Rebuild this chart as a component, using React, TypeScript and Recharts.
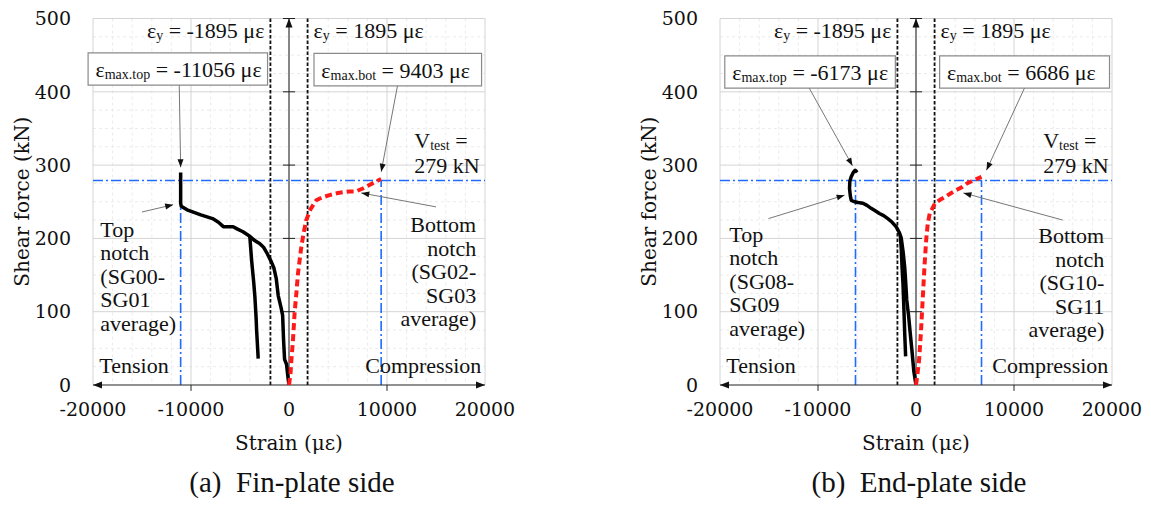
import React from "react";
import {
  CartesianGrid,
  Line,
  LineChart,
  ReferenceArea,
  ReferenceDot,
  ReferenceLine,
  XAxis,
  YAxis,
} from "recharts";

type Pt = { x: number; y: number };

const X_TICKS = [-20000, -10000, 0, 10000, 20000];
const Y_TICKS = [0, 100, 200, 300, 400, 500];
const Y_MAJOR = [100, 200, 300, 400, 500];
const X_MINOR = [-18000, -16000, -14000, -12000, -8000, -6000, -4000, -2000, 2000, 4000, 6000, 8000, 12000, 14000, 16000, 18000];
const Y_MINOR = [25, 50, 75, 125, 150, 175, 225, 250, 275, 325, 350, 375, 425, 450, 475];
const AXIS_TICKS = [100, 200, 300, 400, 500];

const STRAIN_YIELD = 1895;
const V_TEST = 279;

// (a) fin-plate side
const finTopMain: Pt[] = [
  { x: 0, y: 0 }, { x: -100, y: 10 }, { x: -250, y: 28 }, { x: -450, y: 35 }, { x: -550, y: 60 },
  { x: -650, y: 95 }, { x: -800, y: 105 }, { x: -1100, y: 122 }, { x: -1300, y: 145 },
  { x: -1550, y: 160 }, { x: -1800, y: 168 }, { x: -2250, y: 180 }, { x: -2600, y: 188 },
  { x: -3000, y: 193 }, { x: -3500, y: 197 }, { x: -4000, y: 203 }, { x: -4700, y: 209 },
  { x: -5300, y: 213 }, { x: -5700, y: 216 }, { x: -6700, y: 216 }, { x: -7200, y: 222 },
  { x: -7800, y: 227 }, { x: -9000, y: 232 }, { x: -10400, y: 239 }, { x: -11000, y: 244 },
  { x: -11056, y: 248 }, { x: -11056, y: 290 },
];
const finTopBranch: Pt[] = [
  { x: -4000, y: 203 }, { x: -3815, y: 170 }, { x: -3600, y: 140 }, { x: -3479, y: 120 },
  { x: -3350, y: 90 }, { x: -3306, y: 75 }, { x: -3200, y: 50 }, { x: -3143, y: 36 },
];
const finBottom: Pt[] = [
  { x: 0, y: 0 }, { x: 150, y: 15 }, { x: 237, y: 33 }, { x: 400, y: 60 }, { x: 576, y: 99 },
  { x: 750, y: 125 }, { x: 915, y: 152 }, { x: 1100, y: 172 }, { x: 1254, y: 188 },
  { x: 1500, y: 208 }, { x: 1763, y: 225 }, { x: 2200, y: 240 }, { x: 2780, y: 252 },
  { x: 3400, y: 256 }, { x: 4136, y: 259 }, { x: 5000, y: 262 }, { x: 6170, y: 264 },
  { x: 6800, y: 264 }, { x: 7525, y: 268 }, { x: 8500, y: 275 }, { x: 9220, y: 280 },
  { x: 9403, y: 281 },
];
const FIN_EPS_TOP = -11056;
const FIN_EPS_BOT = 9403;

// (b) end-plate side
const endTopMain: Pt[] = [
  { x: 0, y: 0 }, { x: -120, y: 10 }, { x: -224, y: 19 }, { x: -400, y: 45 }, { x: -590, y: 71 },
  { x: -760, y: 95 }, { x: -946, y: 116 }, { x: -1050, y: 140 }, { x: -1150, y: 160 },
  { x: -1300, y: 180 }, { x: -1500, y: 200 }, { x: -1700, y: 208 }, { x: -2035, y: 216 },
  { x: -2500, y: 223 }, { x: -2880, y: 227 }, { x: -3300, y: 231 }, { x: -3733, y: 234 },
  { x: -4200, y: 238 }, { x: -4578, y: 241 }, { x: -5000, y: 245 }, { x: -5422, y: 248 },
  { x: -5900, y: 249 }, { x: -6276, y: 250 }, { x: -6612, y: 252 }, { x: -6700, y: 258 },
  { x: -6785, y: 268 }, { x: -6750, y: 278 }, { x: -6612, y: 284 }, { x: -6400, y: 290 },
  { x: -6205, y: 293 }, { x: -6000, y: 290 },
];
const endTopBranch: Pt[] = [
  { x: -1600, y: 204 }, { x: -1500, y: 185 }, { x: -1420, y: 160 }, { x: -1330, y: 139 },
  { x: -1250, y: 110 }, { x: -1150, y: 70 }, { x: -1058, y: 39 },
];
const endBottom: Pt[] = [
  { x: 0, y: 0 }, { x: 150, y: 15 }, { x: 315, y: 34 }, { x: 500, y: 71 }, { x: 680, y: 116 },
  { x: 865, y: 162 }, { x: 1040, y: 198 }, { x: 1200, y: 220 }, { x: 1400, y: 234 },
  { x: 1945, y: 248 }, { x: 2500, y: 253 }, { x: 3030, y: 257 }, { x: 3600, y: 262 },
  { x: 4120, y: 266 }, { x: 4700, y: 270 }, { x: 5200, y: 275 }, { x: 6000, y: 280 },
  { x: 6686, y: 284 },
];
const END_EPS_TOP = -6173;
const END_EPS_BOT = 6686;

const NOTE_FONT = { fontFamily: "Liberation Serif", fontSize: 22 };
const AXIS_FONT = { fontFamily: "DejaVu Serif", fontSize: 19 };
const TITLE_FONT = { fontFamily: "DejaVu Serif", fontSize: 20 };
const CAPTION_FONT = { fontFamily: "Liberation Serif", fontSize: 29, whiteSpace: "pre" as const };
const BLUE = "#1f6cff";
const RED = "#ff1a1a";

type Box = { x1: number; x2: number; y1: number; y2: number };
type Seg = [Pt, Pt];

type PanelProps = {
  left: number;
  caption: string;
  topMain: Pt[];
  topBranch: Pt[];
  bottom: Pt[];
  epsTop: number;
  epsBot: number;
  boxTop: Box;
  boxBot: Box;
  arrowTop: Seg;
  arrowBot: Seg;
  arrowTopNotch: Seg;
  arrowBotNotch: Seg;
  vTestAt: Pt;
  topNotchAt: Pt;
  topNotchLines: string[];
  botNotchAt: Pt;
  botNotchLines: string[];
};

function arrowShape(color: string, headStart: boolean, headEnd: boolean, len = 8, half = 3) {
  return (p: any) => {
    const { x1, y1, x2, y2 } = p;
    const a = Math.atan2(y2 - y1, x2 - x1);
    const head = (tx: number, ty: number, ang: number) => {
      const bx = tx - len * Math.cos(ang);
      const by = ty - len * Math.sin(ang);
      const nx = -Math.sin(ang) * half;
      const ny = Math.cos(ang) * half;
      return `${tx},${ty} ${bx + nx},${by + ny} ${bx - nx},${by - ny}`;
    };
    return (
      <g>
        <line x1={x1} y1={y1} x2={x2} y2={y2} stroke={color} strokeWidth={1} />
        {headEnd && <polygon points={head(x2, y2, a)} fill="#111" />}
        {headStart && <polygon points={head(x1, y1, a + Math.PI)} fill="#111" />}
      </g>
    );
  };
}

function textShape(lines: string[], anchor: "start" | "end", lineHeight: number) {
  return (p: any) => (
    <text x={p.cx} y={p.cy} textAnchor={anchor} style={NOTE_FONT} fill="#111">
      {lines.map((l, i) => (
        <tspan key={i} x={p.cx} dy={i === 0 ? 0 : lineHeight}>
          {l}
        </tspan>
      ))}
    </text>
  );
}

function epsShape(sub: string, rest: string, anchor: "start" | "end", dx = 0) {
  return (p: any) => (
    <text x={p.cx + dx} y={p.cy} textAnchor={anchor} style={NOTE_FONT} fill="#111">
      <tspan>ε</tspan>
      <tspan style={{ fontSize: 14 }} dy={2}>{sub}</tspan>
      <tspan dy={-2}>{rest}</tspan>
    </text>
  );
}

function vTestShape(p: any) {
  return (
    <text x={p.cx} y={p.cy} style={NOTE_FONT} fill="#111">
      <tspan>V</tspan>
      <tspan style={{ fontSize: 14 }} dy={2}>test</tspan>
      <tspan dy={-2}> =</tspan>
    </text>
  );
}

function xTick(p: any) {
  return (
    <text x={p.x} y={p.y} dy="0.71em" textAnchor="middle" style={AXIS_FONT} fill="#111">
      {p.payload.value}
    </text>
  );
}

function yTick(p: any) {
  return (
    <text x={p.x} y={p.y} dy="0.355em" textAnchor="end" style={AXIS_FONT} fill="#111">
      {p.payload.value}
    </text>
  );
}

function Panel(props: PanelProps) {
  const {
    left, caption, topMain, topBranch, bottom, epsTop, epsBot, boxTop, boxBot,
    arrowTop, arrowBot, arrowTopNotch, arrowBotNotch, vTestAt, topNotchAt, topNotchLines,
    botNotchAt, botNotchLines,
  } = props;

  const yTitle = (lp: any) => {
    const vb = lp.viewBox ?? { x: 33, y: 18.5, width: 60, height: 366.5 };
    const cx = vb.x - 11;
    const cy = vb.y + vb.height / 2;
    return (
      <text x={cx} y={cy} transform={`rotate(-90 ${cx} ${cy})`} textAnchor="middle"
        dominantBaseline="central" style={TITLE_FONT} fill="#111">
        Shear force (kN)
      </text>
    );
  };

  const xTitle = (lp: any) => {
    const vb = lp.viewBox ?? { x: 93, y: 385, width: 392, height: 30 };
    const cx = vb.x + vb.width / 2;
    return (
      <g>
        <text x={cx} y={vb.y + 65} textAnchor="middle" style={TITLE_FONT} fill="#111">
          Strain (με)
        </text>
        <text x={cx + 3} y={vb.y + 107} textAnchor="middle" style={CAPTION_FONT} fill="#111">
          {caption}
        </text>
      </g>
    );
  };

  const callout = arrowShape("#777", false, true, 8, 3);
  const axisArrow = arrowShape("#222", true, true, 9, 3.5);
  const upArrow = arrowShape("#222", false, true, 9, 3.5);
  const boxStyle = { fill: "#fff", fillOpacity: 1, stroke: "#8a8a8a", strokeWidth: 1.2 };

  return (
    <div style={{ position: "absolute", left, top: 0 }}>
      <LineChart width={524} height={505} margin={{ top: 18.5, right: 39, bottom: 90, left: 33 }}>
        <CartesianGrid stroke="#ebebeb" strokeDasharray="3 3" horizontalValues={Y_MINOR} verticalValues={X_MINOR} />
        <CartesianGrid stroke="#d4d4d4" horizontalValues={Y_MAJOR} verticalValues={X_TICKS} />
        <XAxis type="number" dataKey="x" domain={[-20000, 20000]} ticks={X_TICKS} allowDataOverflow
          axisLine={false} tickLine={false} tickSize={6} tickMargin={12} interval={0}
          tick={xTick} label={xTitle} />
        <YAxis type="number" domain={[0, 500]} ticks={Y_TICKS} width={60} allowDataOverflow
          axisLine={false} tickLine={false} tickSize={6} tickMargin={16} interval={0}
          tick={yTick} label={yTitle} />

        {/* annotation boxes */}
        <ReferenceArea x1={boxTop.x1} x2={boxTop.x2} y1={boxTop.y1} y2={boxTop.y2} ifOverflow="visible" {...boxStyle} />
        <ReferenceArea x1={boxBot.x1} x2={boxBot.x2} y1={boxBot.y1} y2={boxBot.y2} ifOverflow="visible" {...boxStyle} />

        {/* test load and maximum strains */}
        <ReferenceLine y={V_TEST} stroke={BLUE} strokeWidth={1.6} strokeDasharray="10 3 2 3" ifOverflow="visible" />
        <ReferenceLine segment={[{ x: epsTop, y: 0 }, { x: epsTop, y: V_TEST }]} stroke={BLUE} strokeWidth={1.6} strokeDasharray="10 3 2 3" ifOverflow="visible" />
        <ReferenceLine segment={[{ x: epsBot, y: 0 }, { x: epsBot, y: V_TEST }]} stroke={BLUE} strokeWidth={1.6} strokeDasharray="10 3 2 3" ifOverflow="visible" />

        {/* yield strain */}
        <ReferenceLine x={-STRAIN_YIELD} stroke="#111" strokeWidth={1.8} strokeDasharray="3.5 2" ifOverflow="visible" />
        <ReferenceLine x={STRAIN_YIELD} stroke="#111" strokeWidth={1.8} strokeDasharray="3.5 2" ifOverflow="visible" />

        {/* axes with arrows */}
        <ReferenceLine segment={[{ x: -20000, y: 0 }, { x: 20000, y: 0 }]} ifOverflow="visible" shape={axisArrow} />
        <ReferenceLine segment={[{ x: 0, y: 0 }, { x: 0, y: 500 }]} ifOverflow="visible" shape={upArrow} />
        {AXIS_TICKS.map((v) => (
          <ReferenceLine key={v} segment={[{ x: -620, y: v }, { x: 620, y: v }]} stroke="#222" strokeWidth={1} ifOverflow="visible" />
        ))}
        {[-10000, 10000].map((v) => (
          <ReferenceLine key={v} segment={[{ x: v, y: 0 }, { x: v, y: -8 }]} stroke="#222" strokeWidth={1} ifOverflow="visible" />
        ))}

        {/* callout arrows */}
        <ReferenceLine segment={arrowTop} ifOverflow="visible" shape={callout} />
        <ReferenceLine segment={arrowBot} ifOverflow="visible" shape={callout} />
        <ReferenceLine segment={arrowTopNotch} ifOverflow="visible" shape={callout} />
        <ReferenceLine segment={arrowBotNotch} ifOverflow="visible" shape={callout} />

        <Line data={topBranch} dataKey="y" stroke="#000" strokeWidth={3.5} dot={false} isAnimationActive={false} strokeLinejoin="round" />
        <Line data={topMain} dataKey="y" stroke="#000" strokeWidth={3.5} dot={false} isAnimationActive={false} strokeLinejoin="round" />
        <Line data={bottom} dataKey="y" stroke={RED} strokeWidth={4} strokeDasharray="7 4" dot={false} isAnimationActive={false} />

        {/* texts */}
        <ReferenceDot x={-STRAIN_YIELD} y={474} ifOverflow="visible" shape={epsShape("y", ` = -${STRAIN_YIELD} με`, "end", -6)} />
        <ReferenceDot x={STRAIN_YIELD} y={474} ifOverflow="visible" shape={epsShape("y", ` = ${STRAIN_YIELD} με`, "start", 6)} />
        <ReferenceDot x={boxTop.x1 + 750} y={boxTop.y1 + 11} ifOverflow="visible" shape={epsShape("max.top", ` = -${Math.abs(epsTop)} με`, "start")} />
        <ReferenceDot x={boxBot.x1 + 750} y={boxBot.y1 + 11} ifOverflow="visible" shape={epsShape("max.bot", ` = ${epsBot} με`, "start")} />
        <ReferenceDot x={vTestAt.x} y={vTestAt.y} ifOverflow="visible" shape={vTestShape} />
        <ReferenceDot x={vTestAt.x} y={vTestAt.y - 34} ifOverflow="visible" shape={textShape([`${V_TEST} kN`], "start", 0)} />
        <ReferenceDot x={topNotchAt.x} y={topNotchAt.y} ifOverflow="visible" shape={textShape(topNotchLines, "start", 23.5)} />
        <ReferenceDot x={botNotchAt.x} y={botNotchAt.y} ifOverflow="visible" shape={textShape(botNotchLines, "end", 23.5)} />
        <ReferenceDot x={-19350} y={16.4} ifOverflow="visible" shape={textShape(["Tension"], "start", 0)} />
        <ReferenceDot x={19630} y={16.4} ifOverflow="visible" shape={textShape(["Compression"], "end", 0)} />
      </LineChart>
    </div>
  );
}

export default function App() {
  return (
    <div style={{ position: "absolute", left: 0, top: 0, width: 1151, height: 505, background: "#fff", overflow: "hidden" }}>
      <Panel
        left={0}
        caption="(a)  Fin-plate side"
        topMain={finTopMain}
        topBranch={finTopBranch}
        bottom={finBottom}
        epsTop={FIN_EPS_TOP}
        epsBot={FIN_EPS_BOT}
        boxTop={{ x1: -20500, x2: -2190, y1: 409, y2: 453 }}
        boxBot={{ x1: 2550, x2: 19650, y1: 408, y2: 452.5 }}
        arrowTop={[{ x: -11200, y: 409 }, { x: -11056, y: 297 }]}
        arrowBot={[{ x: 11068, y: 408 }, { x: 9410, y: 291 }]}
        arrowTopNotch={[{ x: -15005, y: 236 }, { x: -11821, y: 246 }]}
        arrowBotNotch={[{ x: 15005, y: 243 }, { x: 7375, y: 262 }]}
        vTestAt={{ x: 12790, y: 323 }}
        topNotchAt={{ x: -19250, y: 202 }}
        topNotchLines={["Top", "notch", "(SG00-", "SG01", "average)"]}
        botNotchAt={{ x: 19105, y: 208.7 }}
        botNotchLines={["Bottom", "notch", "(SG02-", "SG03", "average)"]}
      />
      <Panel
        left={627}
        caption="(b)  End-plate side"
        topMain={endTopMain}
        topBranch={endTopBranch}
        bottom={endBottom}
        epsTop={END_EPS_TOP}
        epsBot={END_EPS_BOT}
        boxTop={{ x1: -19512, x2: -2106, y1: 405, y2: 449 }}
        boxBot={{ x1: 2411, x2: 19746, y1: 405, y2: 449 }}
        arrowTop={[{ x: -10895, y: 405 }, { x: -6480, y: 299 }]}
        arrowBot={[{ x: 11068, y: 405 }, { x: 7192, y: 293 }]}
        arrowTopNotch={[{ x: -15056, y: 227 }, { x: -7284, y: 259 }]}
        arrowBotNotch={[{ x: 14975, y: 225 }, { x: 4842, y: 262 }]}
        vTestAt={{ x: 12981, y: 323 }}
        topNotchAt={{ x: -19044, y: 195.5 }}
        topNotchLines={["Top", "notch", "(SG08-", "SG09", "average)"]}
        botNotchAt={{ x: 19207, y: 193.7 }}
        botNotchLines={["Bottom", "notch", "(SG10-", "SG11", "average)"]}
      />
    </div>
  );
}
